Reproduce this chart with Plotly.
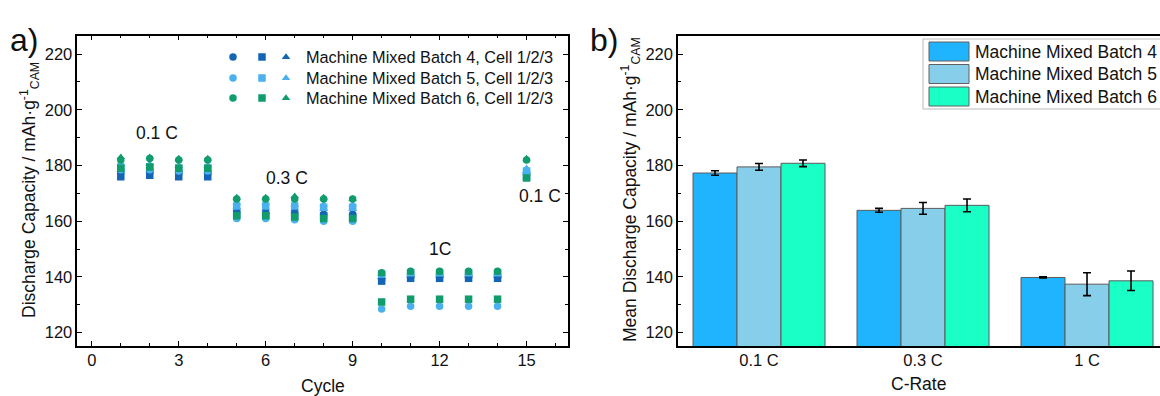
import plotly.graph_objects as go

W, H = 1160, 396
FONT = "Liberation Sans, Arial, sans-serif"

# ---------------- Data: panel a ----------------
cycles = list(range(1, 16))
b4_cell1 = [177.5, 177.5, 177, 177, 163.5, 163, 163, 162.5, 162.5, 139, 140, 140, 140, 140, 177]
b4_cell2 = [176, 176.5, 176, 176, 162.5, 162, 162, 162, 161.5, 138.5, 139.5, 139.5, 139.5, 139.5, 176]
b4_cell3 = [178.5, 178.5, 178, 178, 165, 164.5, 164.5, 164.5, 164.5, 140, 140.5, 140.5, 140.5, 140.5, 178]
b5_cell1 = [178.5, 178.5, 178, 178, 161, 161, 160.5, 160, 160, 128.5, 129.5, 129.5, 129.5, 129.5, 177.5]
b5_cell2 = [179.5, 179.5, 179, 179, 165.5, 165.5, 165.5, 165, 165, 141, 141.5, 141.5, 141.5, 141.5, 178]
b5_cell3 = [180.5, 180.5, 180, 180, 166.5, 166.5, 166, 166, 166, 141.5, 142, 142, 142, 142, 179]
b6_cell1 = [182, 182.5, 182, 182, 168, 168, 168, 168, 168, 141.5, 142, 142, 142, 142, 182]
b6_cell2 = [179, 179.5, 179, 179, 162, 162, 161.5, 161, 161, 131, 132, 132, 132, 132, 175.5]
b6_cell3 = [183, 183, 182.5, 182.5, 168.5, 168.5, 169, 168.5, 168, 141, 141.5, 141.5, 141.5, 141.5, 182.5]

batch_names_a = ["Machine Mixed Batch 4, Cell 1/2/3",
                 "Machine Mixed Batch 5, Cell 1/2/3",
                 "Machine Mixed Batch 6, Cell 1/2/3"]
rate_labels_a = ["0.1 C", "0.3 C", "1C", "0.1 C"]
rate_label_x = [2.25, 6.75, 12.0, 15.45]
rate_label_y = [191.5, 175.5, 150.0, 169.0]

# ---------------- Data: panel b ----------------
c_rates = ["0.1 C", "0.3 C", "1 C"]
batch_names_b = ["Machine Mixed Batch 4", "Machine Mixed Batch 5", "Machine Mixed Batch 6"]
mean_b4 = [177.3, 163.9, 139.8]
mean_b5 = [179.5, 164.6, 137.4]
mean_b6 = [180.8, 165.7, 138.6]
err_b4 = [0.8, 0.7, 0.2]
err_b5 = [1.2, 2.1, 4.1]
err_b6 = [1.2, 2.3, 3.5]

# ---------------- Styles ----------------
marker_colors = ["#1565b5", "#4bb0ee", "#119c6c"]
bar_colors = ["#20b4ff", "#87ceeb", "#1affc6"]
symbols = ["circle", "square", "triangle-up"]
TXT = "#111"

def xp(px):
    return px / W

def yp(py):
    return 1 - py / H

fig = go.Figure()

cells = [[b4_cell1, b4_cell2, b4_cell3],
         [b5_cell1, b5_cell2, b5_cell3],
         [b6_cell1, b6_cell2, b6_cell3]]
for bi, batch in enumerate(cells):
    for ci, vals in enumerate(batch):
        fig.add_trace(go.Scatter(
            x=cycles, y=vals, mode="markers",
            marker=dict(symbol=symbols[ci], size=7.5, color=marker_colors[bi], line=dict(width=0)),
            showlegend=False, xaxis="x", yaxis="y"))

bars = [(mean_b4, err_b4), (mean_b5, err_b5), (mean_b6, err_b6)]
for bi, (m, e) in enumerate(bars):
    fig.add_trace(go.Bar(
        x=c_rates, y=m, name=batch_names_b[bi],
        marker=dict(color=bar_colors[bi], line=dict(color="#5a5a5a", width=1)),
        error_y=dict(type="data", array=e, color="black", thickness=1.6, width=4),
        showlegend=False, xaxis="x2", yaxis="y2"))

# custom legend glyphs for panel a (three symbols per row), on a full-page pixel axis
leg_sym_x = [233, 262, 286]
leg_row_y = [57, 78, 98]
for bi in range(3):
    for ci in range(3):
        fig.add_trace(go.Scatter(
            x=[leg_sym_x[ci]], y=[leg_row_y[bi]], mode="markers",
            marker=dict(symbol=symbols[ci], size=7.5, color=marker_colors[bi]),
            showlegend=False, xaxis="x3", yaxis="y3", hoverinfo="skip"))

axis_common = dict(showline=True, linecolor="black", linewidth=1.5,
                   ticks="inside", tickcolor="black", ticklen=5, tickwidth=1.2,
                   showgrid=False, zeroline=False,
                   tickfont=dict(family=FONT, size=16.5, color=TXT))

dom_y = [yp(346), yp(35.7)]
y_range = [115.2, 226.6]

annotations = []
shapes = []

def ann(text, x, y, size, xref="paper", yref="paper", xanchor="center", yanchor="middle", angle=0):
    if xref == "paper":
        x = xp(x)
    if yref == "paper":
        y = yp(y)
    return dict(text=text, x=x, y=y, xref=xref, yref=yref, xanchor=xanchor, yanchor=yanchor,
                textangle=angle, showarrow=False, font=dict(family=FONT, size=size, color=TXT))

for t, x, y in zip(rate_labels_a, rate_label_x, rate_label_y):
    annotations.append(ann(t, x, y, 17.5, xref="x", yref="y"))

for name, ry in zip(batch_names_a, leg_row_y):
    annotations.append(ann(name, 304, ry, 16.3, xanchor="left"))

shapes.append(dict(type="rect", xref="paper", yref="paper", x0=xp(923), x1=xp(1175),
                   y0=yp(109), y1=yp(39), line=dict(color="#bbbbbb", width=1), fillcolor="white"))
sw_rows = [(42, 61), (64.5, 83.5), (87, 106)]
for bi, (t0, t1) in enumerate(sw_rows):
    shapes.append(dict(type="rect", xref="paper", yref="paper", x0=xp(929), x1=xp(969),
                       y0=yp(t1), y1=yp(t0), line=dict(color="#606060", width=1),
                       fillcolor=bar_colors[bi]))
    annotations.append(ann(batch_names_b[bi], 973, (t0 + t1) / 2, 17.5, xanchor="left"))

annotations += [
    ann("Discharge Capacity / mAh·g<sup>-1</sup><sub>CAM</sub>", 29, 190, 17.5, angle=-90),
    ann("Mean Discharge Capacity / mAh·g<sup>-1</sup><sub>CAM</sub>", 630, 190, 17.5, angle=-90),
    ann("Cycle", 323, 386, 17.5),
    ann("C-Rate", 919, 384, 17.5),
    ann("a)", 8, 40, 32, xanchor="left"),
    ann("b)", 588, 40, 32, xanchor="left"),
]

fig.update_layout(
    width=W, height=H, margin=dict(l=0, r=0, t=0, b=0),
    paper_bgcolor="white", plot_bgcolor="rgba(0,0,0,0)",
    barmode="group", bargap=0.195, bargroupgap=0,
    font=dict(family=FONT, size=16, color=TXT),
    xaxis=dict(domain=[xp(77.3), xp(568)], range=[-0.5, 16.43], tickvals=[0, 3, 6, 9, 12, 15],
               mirror="allticks", anchor="y", ticklabelstandoff=-2,
               minor=dict(ticks="inside", tickvals=list(range(0, 17)), ticklen=3, tickcolor="black", tickwidth=1),
               **axis_common),
    yaxis=dict(domain=dom_y, range=y_range, tickvals=[120, 140, 160, 180, 200, 220],
               mirror="allticks", anchor="x",
               minor=dict(ticks="inside", tickvals=list(range(120, 230, 10)), ticklen=3, tickcolor="black", tickwidth=1),
               **axis_common),
    xaxis2=dict(domain=[xp(678), 1.0], range=[-0.494, 2.445], mirror=True, anchor="y2",
                showline=True, linecolor="black", linewidth=1.5, ticks="", showgrid=False,
                zeroline=False, ticklabelstandoff=-2,
                tickfont=dict(family=FONT, size=16.5, color=TXT)),
    yaxis2=dict(domain=dom_y, range=y_range, tickvals=[120, 140, 160, 180, 200, 220],
                anchor="x2", mirror=False,
                minor=dict(ticks="inside", tickvals=list(range(120, 230, 10)), ticklen=3, tickcolor="black", tickwidth=1),
                **axis_common),
    xaxis3=dict(domain=[0, 1], range=[0, W], visible=False, fixedrange=True, anchor="y3"),
    yaxis3=dict(domain=[0, 1], range=[H, 0], visible=False, fixedrange=True, anchor="x3"),
    annotations=annotations, shapes=shapes,
)

fig.write_html("out.html", config={"displayModeBar": False},
               post_script="document.body.style.margin='0';document.body.style.overflow='hidden';")
